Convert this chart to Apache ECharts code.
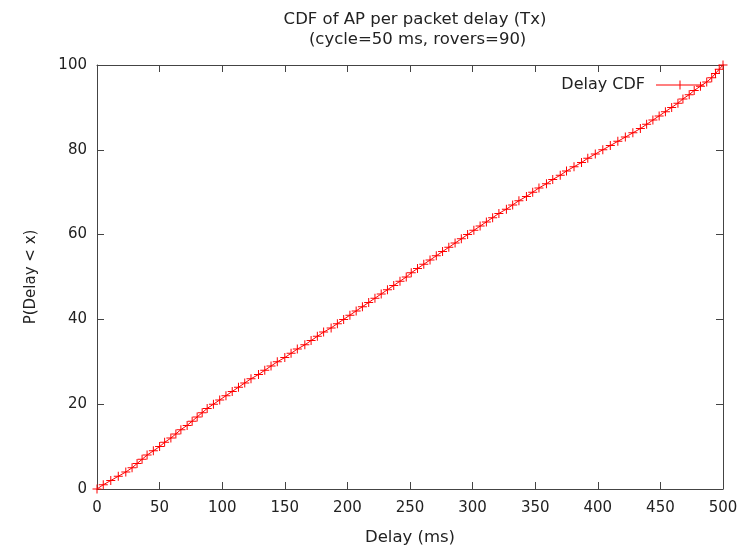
<!DOCTYPE html>
<html>
<head>
<meta charset="utf-8">
<script src="https://cdn.jsdelivr.net/npm/echarts@6/dist/echarts.min.js"></script>
<style>
  html, body { margin: 0; padding: 0; background: #fff; }
  #chart { width: 755px; height: 547px; }
</style>
</head>
<body>
<div id="chart"></div>
<script>
// Percentile levels of the CDF (percent)
const percentiles = [
  0, 1, 2, 3, 4, 5, 6, 7, 8, 9,
  10, 11, 12, 13, 14, 15, 16, 17, 18, 19,
  20, 21, 22, 23, 24, 25, 26, 27, 28, 29,
  30, 31, 32, 33, 34, 35, 36, 37, 38, 39,
  40, 41, 42, 43, 44, 45, 46, 47, 48, 49,
  50, 51, 52, 53, 54, 55, 56, 57, 58, 59,
  60, 61, 62, 63, 64, 65, 66, 67, 68, 69,
  70, 71, 72, 73, 74, 75, 76, 77, 78, 79,
  80, 81, 82, 83, 84, 85, 86, 87, 88, 89,
  90, 91, 92, 93, 94, 95, 96, 97, 98, 99,
  100
];
// Per packet delay (ms) reached at each percentile
const delays = [
  0, 5, 11, 17, 23, 28, 32, 36, 40, 45,
  50, 54, 59, 63, 67, 72, 76, 80, 84, 88,
  93, 98, 103, 108, 113, 118, 123, 129, 134, 139,
  144, 150, 155, 160, 166, 171, 176, 181, 187, 192,
  197, 202, 207, 212, 217, 222, 227, 232, 237, 242,
  247, 251, 256, 261, 266, 271, 276, 281, 286, 291,
  296, 301, 306, 311, 316, 321, 327, 332, 337, 343,
  348, 353, 359, 364, 370, 375, 381, 387, 392, 398,
  404, 410, 416, 422, 428, 434, 439, 444, 449, 454,
  459, 464, 468, 473, 477, 482, 487, 491, 494, 497,
  500
];
const xTicks = { min: 0, max: 500, step: 50 };
const yTicks = { min: 0, max: 100, step: 20 };

const FONT = 'DejaVu Sans';
const FS = 15;
const TEXT = '#222';
const BORDER = '#444';
const RED = '#ff0000';
// "+" point marker (filled, 1px bars in a 9x9 box)
const plusPath = 'path://M4,0H5V4H9V5H5V9H4V5H0V4H4Z';
// legend key: horizontal line with a "+" in its middle
const legendKey = 'path://M0,4H48V5H0Z M23.5,0H24.5V9H23.5Z';

const points = delays.map((d, i) => [d, percentiles[i]]);

function valueAxis(range, pos, showLabels, extra) {
  return Object.assign({
    type: 'value',
    position: pos,
    min: range.min,
    max: range.max,
    interval: range.step,
    axisLine: { show: true, onZero: false, lineStyle: { color: BORDER, width: 1 } },
    axisTick: { show: true, inside: true, length: 7, lineStyle: { color: BORDER, width: 1 } },
    axisLabel: { show: showLabels, color: TEXT, fontFamily: FONT, fontSize: FS },
    splitLine: { show: false }
  }, extra || {});
}

const chart = echarts.init(document.getElementById('chart'), null, { renderer: 'canvas' });
chart.setOption({
  backgroundColor: '#fff',
  animation: false,
  title: {
    text: 'CDF of AP per packet delay (Tx)\n (cycle=50 ms, rovers=90)',
    left: 410,
    top: 5,
    textAlign: 'center',
    textStyle: { fontFamily: FONT, fontSize: 16.5, fontWeight: 'normal', color: TEXT, lineHeight: 20 }
  },
  legend: {
    right: 46,
    top: 72,
    align: 'right',
    itemWidth: 48,
    itemHeight: 9,
    textStyle: { fontFamily: FONT, fontSize: 16, color: TEXT, padding: [0, 6, 0, 0] },
    data: [{ name: 'Delay CDF', icon: legendKey, itemStyle: { color: RED } }]
  },
  grid: { left: 97, right: 32, top: 65, bottom: 58, containLabel: false, outerBoundsMode: 'none' },
  xAxis: [
    valueAxis(xTicks, 'bottom', true, {
      name: 'Delay (ms)', nameLocation: 'middle', nameGap: 40,
      nameTextStyle: { fontFamily: FONT, fontSize: 16.5, color: TEXT },
      axisLabel: { show: true, color: TEXT, fontFamily: FONT, fontSize: FS, margin: 12 }
    }),
    valueAxis(xTicks, 'top', false)
  ],
  yAxis: [
    valueAxis(yTicks, 'left', true, {
      name: 'P(Delay < x)', nameLocation: 'middle', nameGap: 58,
      nameTextStyle: { fontFamily: FONT, fontSize: 15, color: TEXT },
      axisLabel: { show: true, color: TEXT, fontFamily: FONT, fontSize: FS, margin: 10 }
    }),
    valueAxis(yTicks, 'right', false)
  ],
  series: [
    {
      name: 'Delay CDF',
      type: 'line',
      xAxisIndex: 0,
      yAxisIndex: 0,
      data: points,
      symbol: 'none',
      lineStyle: { color: RED, width: 1 },
      itemStyle: { color: RED },
      emphasis: { disabled: true }
    },
    {
      name: 'Delay CDF',
      type: 'scatter',
      xAxisIndex: 0,
      yAxisIndex: 0,
      data: points,
      symbol: plusPath,
      symbolSize: 9,
      itemStyle: { color: RED, opacity: 1 },
      emphasis: { disabled: true }
    }
  ]
});
</script>
</body>
</html>
